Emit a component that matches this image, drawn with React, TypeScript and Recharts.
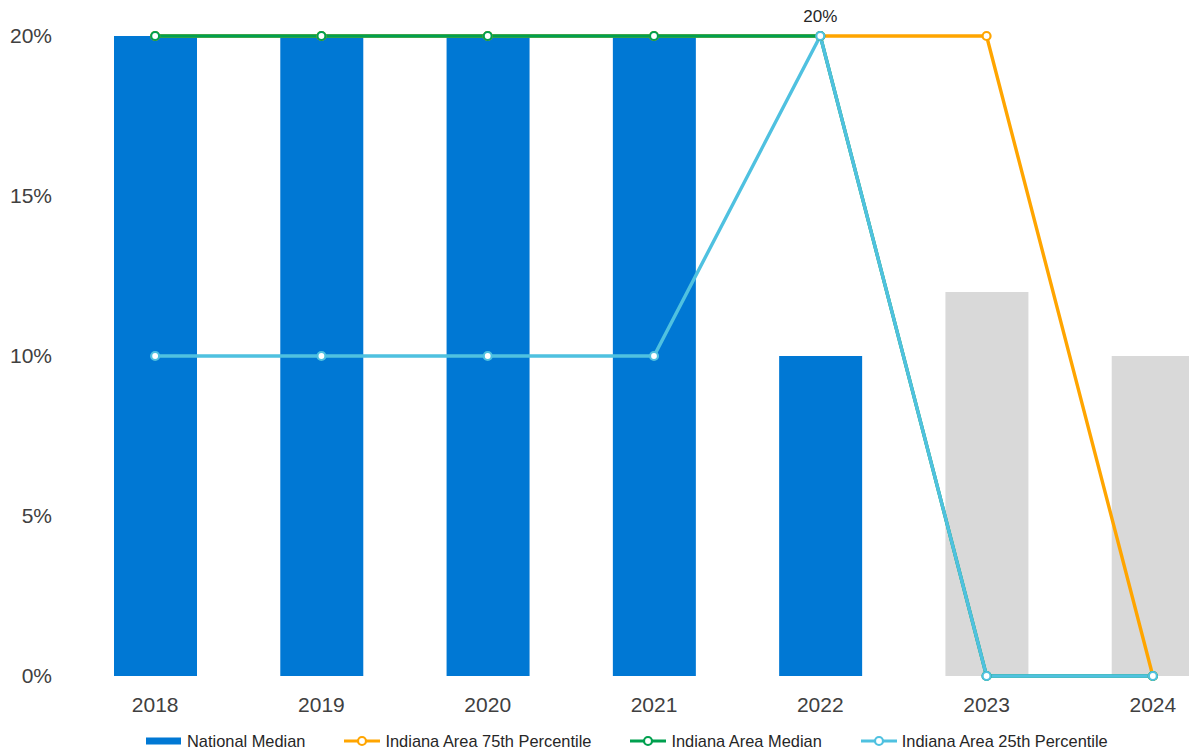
import React from 'react';
import { ComposedChart, Bar, Line, XAxis, YAxis, Legend, LabelList } from 'recharts';

const years = ['2018', '2019', '2020', '2021', '2022', '2023', '2024'];
const nationalMedian = [20, 20, 20, 20, 10, 12, 10];
const projected = [false, false, false, false, false, true, true];
const p75 = [20, 20, 20, 20, 20, 20, 0];
const areaMedian = [20, 20, 20, 20, 20, 0, 0];
const p25 = [10, 10, 10, 10, 20, 0, 0];
const p25Labels = ['', '', '', '', '20%', '', ''];
const yTicks = [0, 5, 10, 15, 20];

const C_BAR = '#0078D4';
const C_GREY = '#D9D9D9';
const C_ORANGE = '#FFA500';
const C_GREEN = '#00A04F';
const C_LBLUE = '#4FC1E0';

const data = years.map((y, i) => ({
  year: y,
  actual: projected[i] ? null : nationalMedian[i],
  proj: projected[i] ? nationalMedian[i] : null,
  p75: p75[i],
  median: areaMedian[i],
  p25: p25[i],
  label: p25Labels[i],
}));

const legendItems = [
  { name: 'National Median', color: C_BAR, type: 'rect' },
  { name: 'Indiana Area 75th Percentile', color: C_ORANGE, type: 'line' },
  { name: 'Indiana Area Median', color: C_GREEN, type: 'line' },
  { name: 'Indiana Area 25th Percentile', color: C_LBLUE, type: 'line' },
];

const FONT = '"Liberation Sans", Arial, sans-serif';

const LegendContent = () => (
  <div
    style={{
      display: 'flex',
      alignItems: 'center',
      paddingLeft: 146,
      height: 24,
      fontFamily: FONT,
      fontSize: 16.4,
      color: '#262626',
      whiteSpace: 'nowrap',
    }}
  >
    {legendItems.map((it, i) => (
      <div key={it.name} style={{ display: 'flex', alignItems: 'center', marginRight: i < legendItems.length - 1 ? 39 : 0 }}>
        <svg width={36} height={12} style={{ marginRight: 5, display: 'block' }}>
          {it.type === 'rect' ? (
            <rect x={0} y={2.5} width={35} height={7} fill={it.color} />
          ) : (
            <g>
              <line x1={0} y1={6} x2={36} y2={6} stroke={it.color} strokeWidth={3} />
              <circle cx={18} cy={6} r={4} fill="#fff" stroke={it.color} strokeWidth={2.2} />
            </g>
          )}
        </svg>
        <span>{it.name}</span>
      </div>
    ))}
  </div>
);

const dotStyle = (color: string) => ({ r: 4, fill: '#fff', stroke: color, strokeWidth: 2.2 });

export default function App() {
  return (
    <div style={{ position: 'absolute', left: 0, top: 0, width: 1189, height: 755, overflow: 'hidden', background: '#fff' }}>
      <ComposedChart
        width={1240}
        height={755}
        data={data}
        margin={{ top: 36, right: 4, bottom: 2, left: 0 }}
      >
        <XAxis
          dataKey="year"
          axisLine={false}
          tickLine={false}
          tickSize={0}
          tickMargin={21}
          height={53}
          tick={{ fill: '#404040', fontSize: 21, fontFamily: FONT }}
          interval={0}
        />
        <YAxis
          domain={[0, 20]}
          ticks={yTicks}
          axisLine={false}
          tickLine={false}
          tickSize={0}
          tickMargin={20}
          width={72}
          tickFormatter={(v: number) => `${v}%`}
          tick={{ fill: '#404040', fontSize: 21, fontFamily: FONT }}
        />
        <Legend verticalAlign="bottom" height={24} wrapperStyle={{ left: 0, width: 1189 }} content={<LegendContent />} />
        <Bar dataKey="actual" stackId="nat" name="National Median" fill={C_BAR} barSize={83} isAnimationActive={false} />
        <Bar dataKey="proj" stackId="nat" name="National Median (projected)" fill={C_GREY} barSize={83} isAnimationActive={false} />
        <Line
          dataKey="p75"
          name="Indiana Area 75th Percentile"
          stroke={C_ORANGE}
          strokeWidth={3.4}
          dot={dotStyle(C_ORANGE)}
          activeDot={false}
          isAnimationActive={false}
        />
        <Line
          dataKey="median"
          name="Indiana Area Median"
          stroke={C_GREEN}
          strokeWidth={3.4}
          dot={dotStyle(C_GREEN)}
          activeDot={false}
          isAnimationActive={false}
        />
        <Line
          dataKey="p25"
          name="Indiana Area 25th Percentile"
          stroke={C_LBLUE}
          strokeWidth={3.4}
          dot={dotStyle(C_LBLUE)}
          activeDot={false}
          isAnimationActive={false}
        >
          <LabelList dataKey="label" position="top" offset={14} fill="#262626" fontSize={17} fontFamily={FONT} />
        </Line>
      </ComposedChart>
    </div>
  );
}
